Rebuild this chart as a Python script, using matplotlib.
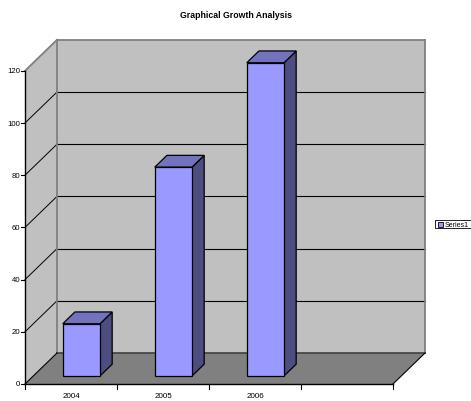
import matplotlib
matplotlib.use("Agg")
import matplotlib.pyplot as plt
from matplotlib import font_manager
from matplotlib.patches import Polygon, Rectangle

# chart data
years = ["2004", "2005", "2006"]
values = [20, 80, 120]
y_ticks = [0, 20, 40, 60, 80, 100, 120]
series_name = "Series1"
title = "Graphical Growth Analysis"

# pseudo-3D layout, in pixels
X0, Y0 = 25, 385          # front origin of the floor
CAT_W = 92                # width of one category slot
PX_PER_UNIT = 2.61
DX, DY = 32, -31          # full depth offset
N_SLOTS = 4
BAR_C0, BAR_C1 = 0.32, 0.725
BAR_D0, BAR_D1 = 0.26, 0.64
VMAX = y_ticks[-1]


def pick_font(names):
    for name in names:
        try:
            font_manager.findfont(name, fallback_to_default=False)
            return name
        except ValueError:
            continue
    return "DejaVu Sans"


NARROW = pick_font(["Liberation Sans Narrow", "Liberation Sans"])
REGULAR = pick_font(["Liberation Sans", "Arial"])


def proj(c, v, d):
    """category position, value, depth -> pixel point"""
    return (X0 + c * CAT_W + d * DX, Y0 - v * PX_PER_UNIT + d * DY)


def poly(ax, pts, face, edge="none", lw=0.0, z=1):
    ax.add_patch(Polygon(pts, closed=True, facecolor=face, edgecolor=edge,
                         linewidth=lw, zorder=z, joinstyle="miter"))


fig = plt.figure(figsize=(4.71, 4.02), dpi=100)
ax = fig.add_axes([0, 0, 1, 1])
ax.set_xlim(0, 471)
ax.set_ylim(402, 0)
ax.axis("off")

# walls and floor
poly(ax, [proj(0, 0, 0), proj(0, 0, 1), proj(0, VMAX, 1), proj(0, VMAX, 0)], "#C0C0C0")
poly(ax, [proj(0, 0, 1), proj(N_SLOTS, 0, 1), proj(N_SLOTS, VMAX, 1), proj(0, VMAX, 1)], "#C0C0C0")
poly(ax, [proj(0, 0, 0), proj(N_SLOTS, 0, 0), proj(N_SLOTS, 0, 1), proj(0, 0, 1)], "#808080")

# gridlines on back and side walls
for v in y_ticks[1:-1]:
    xs, ys = zip(proj(0, v, 1), proj(N_SLOTS, v, 1))
    ax.plot(xs, ys, color="black", lw=0.8, zorder=2)
    xs, ys = zip(proj(0, v, 0), proj(0, v, 1))
    ax.plot(xs, ys, color="black", lw=0.7, zorder=2)

# wall borders
for a, b in [((0, 0, 1), (0, VMAX, 1)), ((0, VMAX, 1), (N_SLOTS, VMAX, 1)),
             ((N_SLOTS, VMAX, 1), (N_SLOTS, 0, 1)), ((0, VMAX, 0), (0, VMAX, 1))]:
    xs, ys = zip(proj(*a), proj(*b))
    ax.plot(xs, ys, color="#808080", lw=1.3, zorder=3, solid_capstyle="projecting")
xs, ys = zip(proj(0, 0, 1), proj(N_SLOTS, 0, 1))
ax.plot(xs, ys, color="#404040", lw=1.2, zorder=3)
for a, b in [((0, 0, 0), (0, 0, 1)), ((N_SLOTS, 0, 0), (N_SLOTS, 0, 1))]:
    xs, ys = zip(proj(*a), proj(*b))
    ax.plot(xs, ys, color="black", lw=0.8, zorder=3)

# bars
for i, v in enumerate(values):
    c0, c1 = i + BAR_C0, i + BAR_C1
    front = [proj(c0, 0, BAR_D0), proj(c1, 0, BAR_D0), proj(c1, v, BAR_D0), proj(c0, v, BAR_D0)]
    side = [proj(c1, 0, BAR_D0), proj(c1, 0, BAR_D1), proj(c1, v, BAR_D1), proj(c1, v, BAR_D0)]
    top = [proj(c0, v, BAR_D0), proj(c1, v, BAR_D0), proj(c1, v, BAR_D1), proj(c0, v, BAR_D1)]
    poly(ax, side, "#4D4D80", "black", 0.9, z=5)
    poly(ax, top, "#7272BF", "black", 0.9, z=5)
    poly(ax, front, "#9999FF", "black", 0.9, z=6)

# value axis
xs, ys = zip(proj(0, 0, 0), proj(0, VMAX, 0))
ax.plot(xs, ys, color="black", lw=1.0, zorder=7)
for v in y_ticks:
    x, y = proj(0, v, 0)
    ax.plot([x - 4, x], [y, y], color="black", lw=0.8, zorder=7)
    ax.text(x - 4.5, y, str(v), ha="right", va="center", fontsize=5.6,
            family=REGULAR, zorder=7)

# category axis
xs, ys = zip(proj(0, 0, 0), proj(N_SLOTS, 0, 0))
ax.plot(xs, ys, color="black", lw=1.0, zorder=7)
for k in range(N_SLOTS + 1):
    x, y = proj(k, 0, 0)
    ax.plot([x, x], [y, y + 5], color="black", lw=0.8, zorder=7)
for i, name in enumerate(years):
    x, y = proj(i + 0.5, 0, 0)
    ax.text(x, y + 12, name, ha="center", va="center", fontsize=5.8,
            family=REGULAR, zorder=7)

# title
ax.text(236, 16, title, ha="center", va="center", fontsize=6.3,
        fontweight="bold", family=NARROW)

# legend
ax.add_patch(Rectangle((435, 221), 36, 8, facecolor="white", edgecolor="black",
                       linewidth=0.6, zorder=8))
ax.add_patch(Rectangle((437.5, 222.5), 5, 5, facecolor="#9999FF", edgecolor="black",
                       linewidth=0.6, zorder=9))
ax.text(445, 225.2, series_name, ha="left", va="center", fontsize=5,
        family=NARROW, zorder=9)

fig.savefig("out.png", dpi=100)
